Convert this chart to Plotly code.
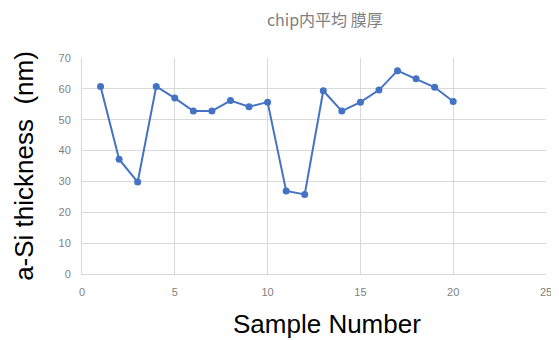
import plotly.graph_objects as go

sample = list(range(1, 21))
thickness = [60.8, 37.2, 29.8, 60.8, 57.0, 52.8, 52.8, 56.2, 54.2, 55.7,
             26.9, 25.8, 59.4, 52.8, 55.7, 59.6, 65.9, 63.3, 60.5, 55.9]

title_text = "chip内平均 膜厚"
x_title = "Sample Number"
y_title = "a-Si thickness\u00a0\u00a0(nm)"

fig = go.Figure(go.Scatter(
    x=sample, y=thickness, mode="lines+markers",
    line=dict(color="#4472C4", width=2),
    marker=dict(color="#4472C4", size=7),
))

fig.update_layout(
    width=551, height=332,
    margin=dict(l=74, r=13, t=50, b=66),
    paper_bgcolor="white", plot_bgcolor="white",
    showlegend=False,
    title=dict(text=title_text, x=0.575, xanchor="center", y=0.964, yanchor="middle",
               font=dict(family="Noto Sans CJK JP", size=16, color="#808080")),
    font=dict(family="Liberation Sans, Arial", color="#595959"),
    annotations=[dict(text=x_title, xref="paper", yref="paper", x=0.528, y=0,
                      xanchor="center", yanchor="middle", yshift=-50, showarrow=False,
                      font=dict(size=26, color="black"))],
)
fig.update_xaxes(
    range=[0, 25], dtick=5, tick0=0, automargin=False,
    showgrid=True, gridcolor="#d9d9d9", gridwidth=1,
    showline=True, linecolor="#d9d9d9", linewidth=1,
    zeroline=False, ticks="", ticklabelstandoff=8,
    tickfont=dict(size=11, color="#808080"),
)
fig.update_yaxes(
    range=[0, 70], dtick=10, tick0=0, automargin=False,
    showgrid=True, gridcolor="#d9d9d9", gridwidth=1,
    showline=True, linecolor="#d9d9d9", linewidth=1,
    zeroline=False, ticks="", ticklabelstandoff=8,
    tickfont=dict(size=11, color="#808080"),
    title=dict(text=y_title, font=dict(size=26, color="black"), standoff=17),
)

fig.write_html("out.html")
